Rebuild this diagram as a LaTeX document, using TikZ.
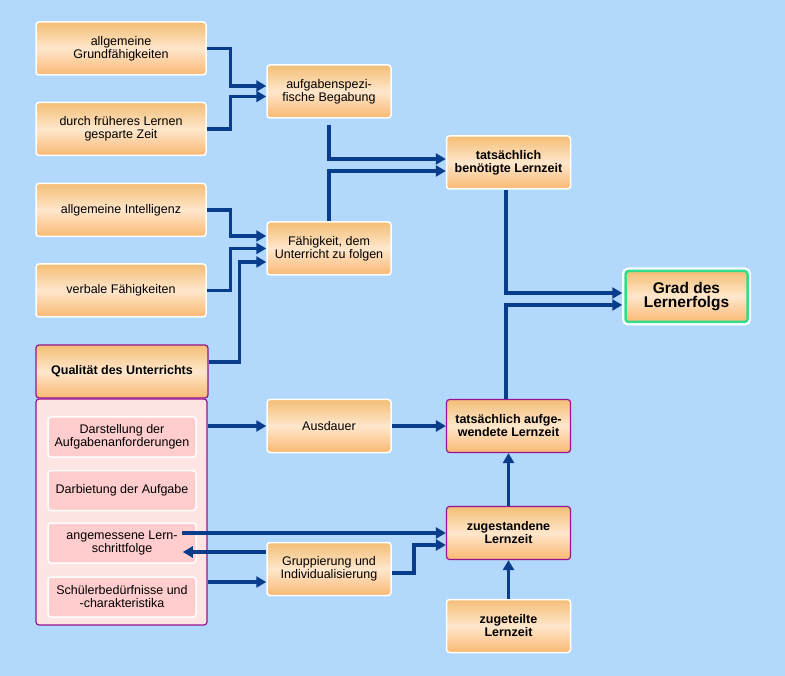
\documentclass[tikz,border=0pt]{standalone}
\usepackage{fontspec}
\setmainfont{Liberation Sans}
\usetikzlibrary{arrows.meta,calc}
\definecolor{bgblue}{RGB}{178,216,252}
\definecolor{orT}{RGB}{243,190,118}
\definecolor{orM}{RGB}{255,231,204}
\definecolor{orB}{RGB}{249,184,115}
\definecolor{purp}{RGB}{150,20,145}
\definecolor{grn}{RGB}{50,220,140}
\definecolor{arrblue}{RGB}{10,60,140}
\definecolor{pinkbg}{RGB}{255,228,228}
\definecolor{pinksub}{RGB}{255,205,205}
\newcommand{\txt}{\fontsize{12.5}{13}\selectfont}

\begin{document}
\begin{tikzpicture}[x=1pt,y=-1pt,
    box/.style={rectangle, rounded corners=3pt, draw=white, line width=1.5pt,
        top color=orT, bottom color=orB, middle color=orM,
        minimum width=124pt, minimum height=53pt, inner sep=2pt,
        align=center, font=\txt},
    wide/.style={box, minimum width=170pt},
    strong/.style={box, font=\txt\bfseries},
    lila/.style={draw=purp, line width=1.2pt},
    sub/.style={rectangle, rounded corners=3pt, draw=white, line width=1.5pt,
        fill=pinksub, minimum width=148pt, minimum height=40pt, inner sep=1pt,
        align=center, font=\txt},
    arr/.style={draw=arrblue, line width=3.2pt, -{Triangle[length=10pt,width=11pt]}}
    ]
    \fill[bgblue] (0,0) rectangle (785,676);
    \useasboundingbox (0,0) rectangle (785,676);

    \node[wide] (agf) at (121,48.5) {allgemeine\\Grundfähigkeiten};
    \node[wide] (dfl) at (121,129) {durch früheres Lernen\\gesparte Zeit};
    \node[wide] (ain) at (121,210) {allgemeine Intelligenz};
    \node[wide] (vfa) at (121,290.5) {verbale Fähigkeiten};
    \node[wide,lila,font=\txt\bfseries,minimum width=172pt] (qual) at (122,371.5) {Qualität des Unterrichts};

    \node[rectangle, rounded corners=3pt, lila, fill=pinkbg,
        minimum width=171pt, minimum height=226pt] (pink) at (121.5,512) {};
    \node[sub] (dar) at (122,437) {Darstellung der\\Aufgabenanforderungen};
    \node[sub] (dab) at (122,490.5) {Darbietung der Aufgabe};
    \node[sub] (lern) at (122,543) {angemessene Lern-\\schrittfolge};
    \node[sub] (sch) at (122,597) {Schülerbedürfnisse und\\-charakteristika};

    \node[box] (afb) at (329,91.5) {aufgabenspezi-\\fische Begabung};
    \node[box] (fuf) at (329,248.5) {Fähigkeit, dem\\Unterricht zu folgen};
    \node[box] (aus) at (329,426) {Ausdauer};
    \node[box] (grp) at (329,569) {Gruppierung und\\Individualisierung};

    \node[strong] (tbl) at (508.5,162.5) {tatsächlich\\benötigte Lernzeit};
    \node[strong,lila] (auf) at (508.5,426) {tatsächlich aufge-\\wendete Lernzeit};
    \node[strong,lila] (zug) at (508.5,533) {zugestandene\\Lernzeit};
    \node[strong] (zut) at (508.5,626) {zugeteilte\\Lernzeit};

    \node[box, draw=grn, line width=2.5pt, preaction={draw=white, line width=7pt},
        minimum width=122pt, minimum height=51pt,
        font=\fontsize{15.5}{14.5}\selectfont\bfseries] (grad) at (686.5,296.5) {Grad des\\Lernerfolgs};

    \draw[arr] (agf.east) -| ($(afb.west)+(-36,-5.5)$) -- ($(afb.west)+(0,-5.5)$);
    \draw[arr] (dfl.east) -| ($(afb.west)+(-36,5)$) -- ($(afb.west)+(0,5)$);
    \draw[arr] (ain.east) -| ($(fuf.west)+(-36,-12.5)$) -- ($(fuf.west)+(0,-12.5)$);
    \draw[arr] (vfa.east) -| ($(fuf.west)+(-36,0)$) -- (fuf.west);
    \draw[arr] ($(qual.east)+(0,-9.5)$) -| ($(fuf.west)+(-27,13.5)$) -- ($(fuf.west)+(0,13.5)$);

    \draw[arr,shorten <=6pt] (afb.south) |- ($(tbl.west)+(0,-3.5)$);
    \draw[arr] (fuf.north) |- ($(tbl.west)+(0,8.5)$);
    \draw[arr,shorten >=2pt] ([xshift=-2.5pt]tbl.south) |- ($(grad.west)+(0,-3.5)$);
    \draw[arr,shorten >=2pt] ([xshift=-2.5pt]auf.north) |- ($(grad.west)+(0,8.5)$);

    \draw[arr] (pink.east |- aus.west) -- (aus.west);
    \draw[arr] (aus.east) -- (auf.west);
    \draw[arr] ([xshift=-15pt]lern.east |- zug.west) -- (zug.west);
    \draw[arr] ($(grp.west)+(0,-17)$) -- ($(lern.east)+(-14,9)$);
    \draw[arr] ($(pink.east)+(0,70)$) -- ($(grp.west)+(0,13)$);
    \draw[arr] ($(grp.east)+(0,4)$) -| ($(zug.west)+(-32,12)$) -- ($(zug.west)+(0,12)$);
    \draw[arr] (zut.north) -- (zug.south);
    \draw[arr] (zug.north) -- (auf.south);
\end{tikzpicture}
\end{document}
